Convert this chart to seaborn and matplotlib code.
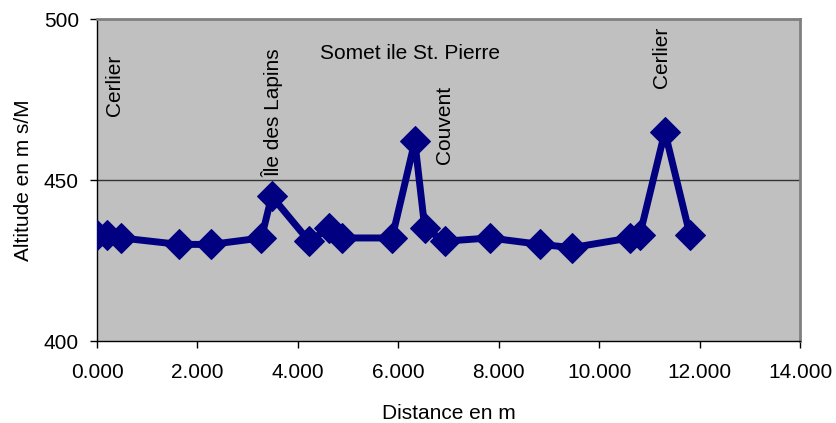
import numpy as np
import pandas as pd
import matplotlib
matplotlib.use("Agg")
import matplotlib.pyplot as plt
import seaborn as sns

# profile along the shore (distance in m, altitude in m s/M)
distance = [0, 207, 486, 1633, 2279, 3275, 3478, 4223, 4622, 4888, 5876,
            6329, 6528, 6926, 7822, 8832, 9462, 10612, 10811, 11309, 11807]
altitude = [433, 433, 432, 430, 430, 432, 445, 431, 435, 432, 432,
            462, 435, 431, 432, 430, 429, 432, 433, 465, 433]

# place names written on the chart
place_names = ["Cerlier", "Île des Lapins", "Couvent", "Cerlier"]
place_x = [353, 3500, 6926, 11248]
place_y = [470, 451, 455, 478.5]
title_text = "Somet ile St. Pierre"

x_ticks = [0, 2000, 4000, 6000, 8000, 10000, 12000, 14000]
x_tick_labels = ["0.000", "2.000", "4.000", "6.000", "8.000", "10.000", "12.000", "14.000"]
y_ticks = [400, 450, 500]

sns.set_style("white", {'text.color': 'black', 'axes.labelcolor': 'black',
                        'xtick.color': 'black', 'ytick.color': 'black'})
plt.rcParams['font.family'] = ['Liberation Sans', 'DejaVu Sans']

df = pd.DataFrame({'distance': distance, 'altitude': altitude})

fig = plt.figure(figsize=(8.36, 4.23), dpi=100)
ax = fig.add_axes([97 / 836, 1 - 341 / 423, 703 / 836, 322 / 423])
ax.set_facecolor('#C0C0C0')

ax.axhline(450, color='#333333', lw=1.0, zorder=1)

sns.lineplot(data=df, x='distance', y='altitude', ax=ax, color='#000080',
             linewidth=5, marker='D', markersize=15, markeredgecolor='#000080',
             sort=False, zorder=3)

for name, px, py in zip(place_names, place_x, place_y):
    ax.text(px, py, name, rotation=90, ha='center', va='bottom',
            fontsize=15, color='black', clip_on=True)
ax.text(6229, 489.4, title_text, ha='center', va='center', fontsize=15, color='black')

ax.set_xlim(0, 14000)
ax.set_ylim(400, 500)
ax.set_xticks(x_ticks)
ax.set_xticklabels(x_tick_labels)
ax.set_yticks(y_ticks)
ax.tick_params(axis='both', labelsize=15, direction='out', length=5, width=1,
               color='black', labelcolor='black', bottom=True, left=True, pad=8)
ax.tick_params(axis='x', pad=11)

for side in ['top', 'right']:
    ax.spines[side].set_color('#808080')
    ax.spines[side].set_linewidth(2)
for side in ['left', 'bottom']:
    ax.spines[side].set_color('black')
    ax.spines[side].set_linewidth(1)

ax.set_xlabel("Distance en m", fontsize=15, labelpad=16, color='black')
ax.set_ylabel("Altitude en m s/M", fontsize=15, labelpad=8, color='black')

fig.savefig("out.png", dpi=100)
